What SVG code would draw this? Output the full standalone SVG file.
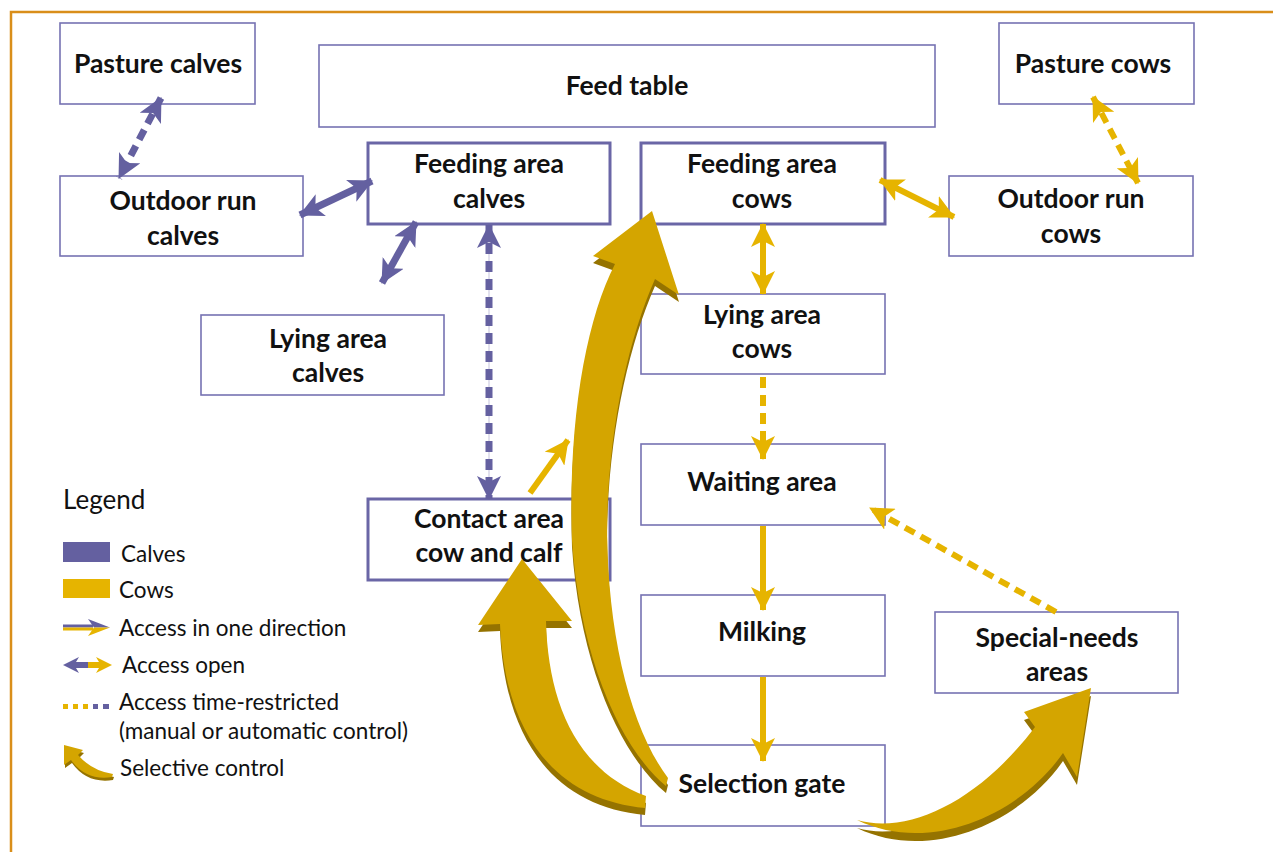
<svg xmlns="http://www.w3.org/2000/svg" width="1273" height="852" viewBox="0 0 1273 852">
<style>
.box{fill:#fff;stroke:#7672b2;stroke-width:1.6}
.thick{stroke:#6a66a6;stroke-width:3}
.lbl{font-family:Lato,"Liberation Sans",sans-serif;font-weight:700;font-size:26.5px;fill:#111;text-anchor:middle}
.leg{font-family:Lato,"Liberation Sans",sans-serif;font-size:22.5px;fill:#111}
.cp{stroke:#6460a0;stroke-width:7;fill:none}
.cg{stroke:#e6b400;stroke-width:6;fill:none}
.dash{stroke-dasharray:11 7}
.big{fill:#d4a500}
.bigd{fill:#957300}
</style>
<defs>
<marker id="hp" viewBox="0 0 24 24" refX="23" refY="12" markerWidth="24" markerHeight="24" markerUnits="userSpaceOnUse" orient="auto-start-reverse">
<path d="M0,0 L24,12 L0,24 L6,12 Z" fill="#6460a0"/>
</marker>
<marker id="hg" viewBox="0 0 24 24" refX="23" refY="12" markerWidth="24" markerHeight="24" markerUnits="userSpaceOnUse" orient="auto-start-reverse">
<path d="M0,0 L24,12 L0,24 L6,12 Z" fill="#e6b400"/>
</marker>
</defs>
<rect width="1273" height="852" fill="#fff"/>
<path d="M11,852 V12 H1273" fill="none" stroke="#d98e1a" stroke-width="2.5"/>

<g id="pasture-calves"><rect class="box" x="60" y="23" width="195" height="81"/><text class="lbl" x="158" y="73">Pasture calves</text></g>
<g id="feed-table"><rect class="box" x="319" y="45" width="616" height="82"/><text class="lbl" x="627" y="95">Feed table</text></g>
<g id="pasture-cows"><rect class="box" x="999" y="23" width="195" height="81"/><text class="lbl" x="1093" y="73">Pasture cows</text></g>
<g id="feeding-calves"><rect class="box thick" x="368" y="143" width="242" height="81"/><text class="lbl" x="489" y="173">Feeding area</text><text class="lbl" x="489" y="208">calves</text></g>
<g id="feeding-cows"><rect class="box thick" x="641" y="143" width="244" height="81"/><text class="lbl" x="762" y="173">Feeding area</text><text class="lbl" x="762" y="208">cows</text></g>
<g id="outdoor-calves"><rect class="box" x="60" y="176" width="243" height="80"/><text class="lbl" x="183" y="210">Outdoor run</text><text class="lbl" x="183" y="245">calves</text></g>
<g id="outdoor-cows"><rect class="box" x="949" y="176" width="244" height="80"/><text class="lbl" x="1071" y="208">Outdoor run</text><text class="lbl" x="1071" y="243">cows</text></g>
<g id="lying-calves"><rect class="box" x="201" y="315" width="243" height="80"/><text class="lbl" x="328" y="348">Lying area</text><text class="lbl" x="328" y="382">calves</text></g>
<g id="lying-cows"><rect class="box" x="641" y="294" width="244" height="80"/><text class="lbl" x="762" y="324">Lying area</text><text class="lbl" x="762" y="358">cows</text></g>
<g id="waiting"><rect class="box" x="641" y="444" width="244" height="81"/><text class="lbl" x="762" y="491">Waiting area</text></g>
<g id="contact"><rect class="box thick" x="368" y="499" width="242" height="81"/><text class="lbl" x="489" y="528">Contact area</text><text class="lbl" x="489" y="562">cow and calf</text></g>
<g id="milking"><rect class="box" x="641" y="595" width="244" height="81"/><text class="lbl" x="762" y="641">Milking</text></g>
<g id="special-needs"><rect class="box" x="935" y="612" width="243" height="81"/><text class="lbl" x="1057" y="647">Special-needs</text><text class="lbl" x="1057" y="681">areas</text></g>
<g id="selection-gate"><rect class="box" x="641" y="745" width="244" height="81"/><text class="lbl" x="762" y="793">Selection gate</text></g>

<g id="connectors">
<line class="cp dash" x1="161" y1="98" x2="119" y2="178" marker-start="url(#hp)" marker-end="url(#hp)"/>
<line class="cg dash" x1="1093" y1="97" x2="1138" y2="183" marker-start="url(#hg)" marker-end="url(#hg)"/>
<line class="cp" x1="300" y1="215" x2="372" y2="181" marker-start="url(#hp)" marker-end="url(#hp)"/>
<line class="cp" x1="416" y1="222" x2="382" y2="283" marker-start="url(#hp)" marker-end="url(#hp)"/>
<line x1="489" y1="226" x2="489" y2="498" stroke="#cfcde3" stroke-width="1.2"/>
<line class="cp dash" x1="489" y1="225" x2="489" y2="499" marker-start="url(#hp)" marker-end="url(#hp)"/>
<line class="cg" x1="880" y1="180" x2="954" y2="217" marker-start="url(#hg)" marker-end="url(#hg)"/>
<line class="cg" x1="763" y1="224" x2="763" y2="294" marker-start="url(#hg)" marker-end="url(#hg)"/>
<line class="cg dash" x1="763" y1="377" x2="763" y2="459" marker-end="url(#hg)"/>
<line class="cg" x1="763" y1="526" x2="763" y2="610" marker-end="url(#hg)"/>
<line class="cg" x1="763" y1="677" x2="763" y2="761" marker-end="url(#hg)"/>
<line class="cg dash" x1="1056" y1="612" x2="870" y2="508" marker-end="url(#hg)"/>
<line class="cg" x1="530" y1="493" x2="568" y2="440" marker-end="url(#hg)"/>

<g id="selective-to-feeding-cows">
<path class="bigd" transform="translate(0,7)" d="M652,211 L679,295 L655,279 C628,340 608,430 607,530 C608,640 632,730 668,778 L666,786 C622,750 580,660 572,540 C568,420 586,320 615,264 L593,256 Z"/>
<path class="big" d="M652,211 L679,295 L655,279 C628,340 608,430 607,530 C608,640 632,730 668,778 L666,786 C622,750 580,660 572,540 C568,420 586,320 615,264 L593,256 Z"/>
</g>
<g id="selective-to-contact">
<path class="bigd" transform="translate(0,7)" d="M522,559 L572,621 L546,621 C548,700 575,770 646,796 L645,808 C560,800 505,740 500,624 L478,625 Z"/>
<path class="big" d="M522,559 L572,621 L546,621 C548,700 575,770 646,796 L645,808 C560,800 505,740 500,624 L478,625 Z"/>
</g>
<g id="selective-to-special">
<path class="bigd" transform="translate(0,8)" d="M857,820 C910,835 980,800 1035,727 L1024,712 L1091,688 L1077,777 L1063,753 C1020,815 930,855 857,820 Z"/>
<path class="big" d="M857,820 C910,835 980,800 1035,727 L1024,712 L1091,688 L1077,777 L1063,753 C1020,815 930,855 857,820 Z"/>
</g>
</g>

<g id="legend">
<text class="leg" x="63" y="509" style="font-size:26px">Legend</text>
<rect x="63" y="542" width="47" height="20" fill="#6460a0"/>
<text class="leg" x="121" y="562">Calves</text>
<rect x="63" y="579" width="47" height="19" fill="#e6b400"/>
<text class="leg" x="119" y="598">Cows</text>
<rect x="63" y="624.5" width="30" height="3" fill="#6460a0"/>
<rect x="63" y="627.5" width="30" height="3" fill="#e6b400"/>
<polygon points="88,619 110,627.5 94,627.5" fill="#6460a0"/>
<polygon points="94,627.5 110,627.5 88,636" fill="#e6b400"/>
<text class="leg" x="119" y="636">Access in one direction</text>
<polygon points="63,665 79,657 76,662 88,662 88,668 76,668 79,673" fill="#6460a0"/>
<polygon points="112,665 96,657 99,662 88,662 88,668 99,668 96,673" fill="#e6b400"/>
<text class="leg" x="122" y="673">Access open</text>
<g fill="#e6b400"><rect x="63" y="704" width="5" height="5"/><rect x="73" y="704" width="5" height="5"/><rect x="83" y="704" width="5" height="5"/></g>
<g fill="#6460a0"><rect x="93" y="704" width="5" height="5"/><rect x="103" y="704" width="6" height="5"/></g>
<text class="leg" x="119" y="710">Access time-restricted</text>
<text class="leg" x="119" y="739">(manual or automatic control)</text>
<path class="bigd" transform="translate(1,3)" d="M64,745 L83,750 L78,755 Q92,771 113,774 L112,777 Q86,781 71,760 L64,765 Z"/>
<path class="big" d="M64,745 L83,750 L78,755 Q92,771 113,774 L112,777 Q86,781 71,760 L64,765 Z"/>
<text class="leg" x="120" y="776">Selective control</text>
</g>
</svg>
